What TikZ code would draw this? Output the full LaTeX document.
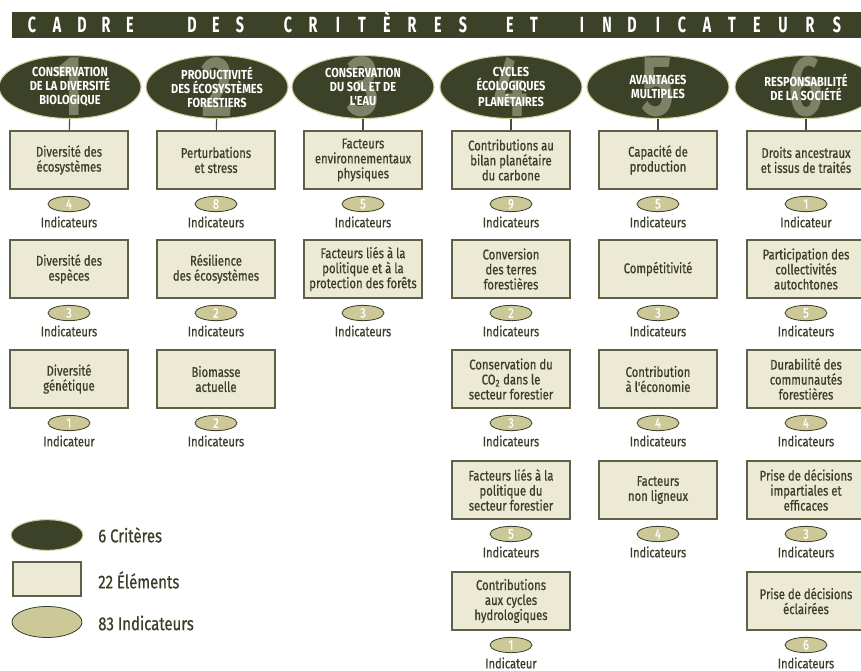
\documentclass[tikz,border=0pt]{standalone}
\usepackage{fontspec}
\setmainfont{Fira Sans}[FakeStretch=0.8]
\newfontfamily\medfont{Fira Sans}[FakeStretch=0.8,FakeBold=0.6]
\newfontfamily\critfont{Fira Sans}[FakeStretch=0.84]
\newfontfamily\hdrfont{Fira Sans}[FakeStretch=0.65]
\newfontfamily\digfont{Fira Sans}[FakeStretch=0.72]
\usetikzlibrary{shapes.geometric}
\definecolor{critdark}{HTML}{3B4228}
\definecolor{critedge}{HTML}{D6D0A0}
\definecolor{bignumcol}{HTML}{7D8266}
\definecolor{boxfill}{HTML}{ECE9D5}
\definecolor{boxedge}{HTML}{5E6148}
\definecolor{indfill}{HTML}{CDC898}
\definecolor{textdark}{HTML}{3A3E28}
\definecolor{conncol}{HTML}{4A4B3C}
\newcommand\myitem[6]{%
  \node[elem] (#1) at (#2,#3+29) {#4};
  \node[ind] (#1n) at (#2,#3+73) {#5};
  \node[indlabel] (#1l) at (#2,#3+91) {#6};
}
\begin{document}
\begin{tikzpicture}[x=0.75pt,y=-0.75pt,
  crit/.style={ellipse, fill=critdark, draw=critedge, line width=0.8pt, minimum width=106.5pt, minimum height=47.25pt, inner sep=0pt},
  bignum/.style={text=bignumcol, font=\digfont\fontsize{64}{64}\selectfont\bfseries, inner sep=0pt},
  crittext/.style={text=white, font=\critfont\fontsize{9.8}{10.4}\selectfont\bfseries, align=center, inner sep=0pt},
  elem/.style={rectangle, fill=boxfill, draw=boxedge, line width=0.9pt, minimum width=88.5pt, minimum height=43.5pt, inner sep=0pt, align=center, text=textdark, font=\medfont\fontsize{10.6}{11.25}\selectfont},
  ind/.style={ellipse, fill=indfill, draw=textdark, line width=0.6pt, minimum width=31.5pt, minimum height=11.5pt, inner sep=0pt, text=white, font=\medfont\fontsize{10.5}{10.5}\selectfont},
  indlabel/.style={text=textdark, inner sep=0pt, font=\medfont\fontsize{10.4}{10.4}\selectfont},
  hdr/.style={text=white, inner sep=0pt, anchor=base, font=\hdrfont\fontsize{16.5}{16.5}\selectfont\bfseries},
  legtext/.style={text=textdark, anchor=west, inner sep=0pt, font=\medfont\fontsize{14}{14}\selectfont},
  conn/.style={draw=conncol, line width=0.8pt}]
\useasboundingbox (0,0) rectangle (861,671);
\clip (0,0) rectangle (861,671);
% header
\fill[critdark] (12,12) rectangle (861,38);
\foreach \ch/\x [count=\i] in {C/32,A/57,D/82,R/106,E/130,D/192,E/216,S/240,C/288,R/313,I/338,T/362,È/387,R/412,E/438,S/463,E/510,T/534,I/582,N/607,D/632,I/658,C/682,A/707,T/732,E/757,U/783,R/810,S/837}
  \node[hdr] (h\i) at (\x,32.5) {\ch};
% criteria
\foreach \x/\n/\t [count=\i] in {
  70/1/{CONSERVATION\\DE LA DIVERSITÉ\\BIOLOGIQUE},
  217/2/{PRODUCTIVITÉ\\DES ÉCOSYSTÈMES\\FORESTIERS},
  363/3/{CONSERVATION\\DU SOL ET DE\\L'EAU},
  511/4/{CYCLES\\ÉCOLOGIQUES\\PLANÉTAIRES},
  658/5/{AVANTAGES\\MULTIPLES},
  806/6/{RESPONSABILITÉ\\DE LA SOCIÉTÉ}}{
  \node[crit] (c\i) at (\x,87) {};
  \node[bignum] (d\i) at (\x,87) {\n};
  \node[crittext] (t\i) at (\x,87) {\t};
}
% column 1
\myitem{a1}{69}{131}{Diversité des\\écosystèmes}{4}{Indicateurs}
\myitem{a2}{69}{240}{Diversité des\\espèces}{3}{Indicateurs}
\myitem{a3}{69}{350}{Diversité\\génétique}{1}{Indicateur}
% column 2
\myitem{b1}{216}{131}{Perturbations\\et stress}{8}{Indicateurs}
\myitem{b2}{216}{240}{Résilience\\des écosystèmes}{2}{Indicateurs}
\myitem{b3}{216}{350}{Biomasse\\actuelle}{2}{Indicateurs}
% column 3
\myitem{e1}{363}{131}{Facteurs\\environnementaux\\physiques}{5}{Indicateurs}
\myitem{e2}{363}{240}{Facteurs liés à la\\politique et à la\\protection des forêts}{3}{Indicateurs}
% column 4
\myitem{f1}{511}{131}{Contributions au\\bilan planétaire\\du carbone}{9}{Indicateurs}
\myitem{f2}{511}{240}{Conversion\\des terres\\forestières}{2}{Indicateurs}
\myitem{f3}{511}{350}{Conservation du\\CO\textsubscript{2} dans le\\secteur forestier}{3}{Indicateurs}
\myitem{f4}{511}{461}{Facteurs liés à la\\politique du\\secteur forestier}{5}{Indicateurs}
\myitem{f5}{511}{572}{Contributions\\aux cycles\\hydrologiques}{1}{Indicateur}
% column 5
\myitem{g1}{658}{131}{Capacité de\\production}{5}{Indicateurs}
\myitem{g2}{658}{240}{Compétitivité}{3}{Indicateurs}
\myitem{g3}{658}{350}{Contribution\\à l'économie}{4}{Indicateurs}
\myitem{g4}{658}{461}{Facteurs\\non ligneux}{4}{Indicateurs}
% column 6
\myitem{k1}{806}{131}{Droits ancestraux\\et issus de traités}{1}{Indicateur}
\myitem{k2}{806}{240}{Participation des\\collectivités\\autochtones}{5}{Indicateurs}
\myitem{k3}{806}{350}{Durabilité des\\communautés\\forestières}{4}{Indicateurs}
\myitem{k4}{806}{461}{Prise de décisions\\impartiales et\\efficaces}{3}{Indicateurs}
\myitem{k5}{806}{572}{Prise de décisions\\éclairées}{6}{Indicateurs}
% connectors
\draw[conn] (c1) -- (a1);
\draw[conn] (c2) -- (b1);
\draw[conn] (c3) -- (e1);
\draw[conn] (c4) -- (f1);
\draw[conn] (c5) -- (g1);
\draw[conn] (c6) -- (k1);
% legend
\node[crit, minimum width=54pt, minimum height=23pt] (lc) at (47,535) {};
\node[legtext] (lct) at (98,535) {6 Critères};
\node[elem, minimum width=51pt, minimum height=25.5pt] (le) at (47,579) {};
\node[legtext] (let) at (98,580) {22 Éléments};
\node[ind, minimum width=52.5pt, minimum height=23.25pt] (li) at (47,622) {};
\node[legtext] (lit) at (98,623) {83 Indicateurs};
\end{tikzpicture}
\end{document}
